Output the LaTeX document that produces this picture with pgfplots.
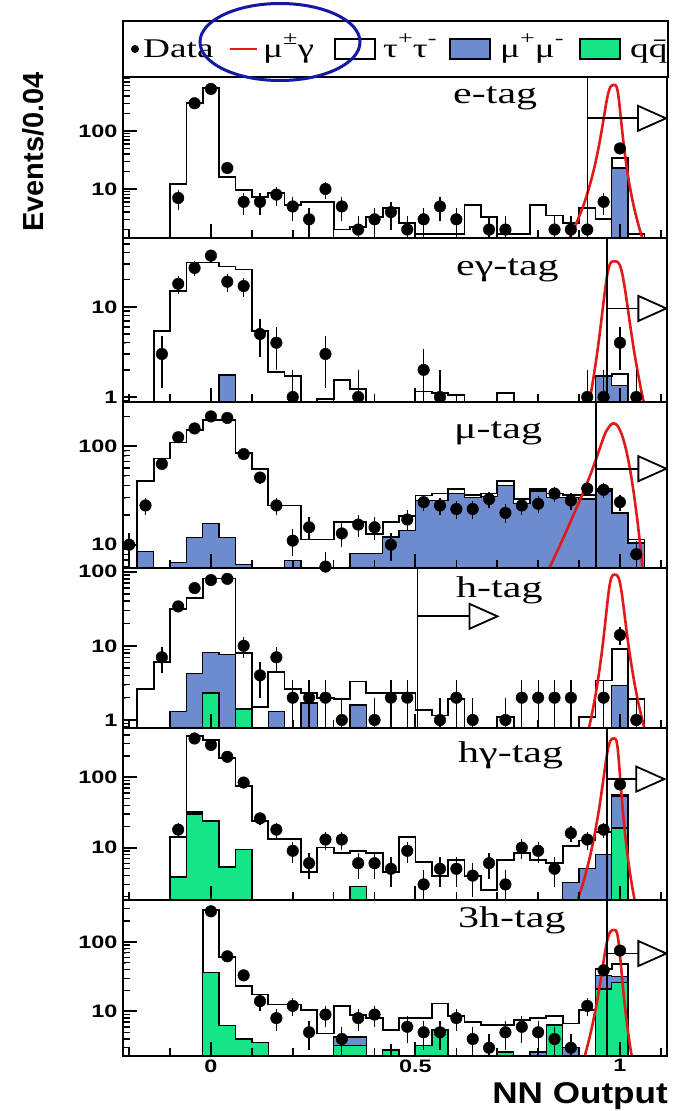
\documentclass[border=0pt]{standalone}
\usepackage{fontspec}
\usepackage{pgfplots}
\usepackage{pgfplotstable}
\pgfplotsset{compat=1.18}
\newfontfamily\sansstretch{Liberation Sans}[FakeStretch=1.3]
\newfontfamily\sansplain{Liberation Sans}
\newfontfamily\sanslabel{Liberation Sans}[FakeStretch=1.17]
\newfontfamily\serifleg{Liberation Serif}[FakeStretch=1.38]
\newfontfamily\serifpanel{Liberation Serif}[FakeStretch=1.4]
\newcommand\ticklab{\fontsize{18}{20}\selectfont\sansstretch\bfseries}
\newcommand\legfont{\fontsize{27}{27}\selectfont\serifleg}
\newcommand\panfont{\fontsize{30}{30}\selectfont\serifpanel}
\newcommand\sups[1]{\raisebox{0.45em}{\fontsize{19}{19}\selectfont #1}}
\definecolor{mublue}{RGB}{110,140,205}
\definecolor{qqgreen}{RGB}{20,230,135}
\definecolor{sigred}{RGB}{225,25,25}
\definecolor{ellblue}{RGB}{20,25,165}

\pgfplotstableread{
x t b g
-0.10 12 0.01 0.01
-0.06 300 0.01 0.01
-0.02 550 0.01 0.01
0.02 16 0.01 0.01
0.06 9.5 0.01 0.01
0.10 7.3 0.01 0.01
0.14 8.5 0.01 0.01
0.18 5.3 0.01 0.01
0.22 6 0.01 0.01
0.26 6 0.01 0.01
0.30 2.0 0.01 0.01
0.34 2.2 0.01 0.01
0.38 3.3 0.01 0.01
0.42 4.7 0.01 0.01
0.46 2.6 0.01 0.01
0.50 1.7 0.01 0.01
0.54 1.7 0.01 0.01
0.58 1.7 0.01 0.01
0.62 5.3 0.01 0.01
0.66 3.3 0.01 0.01
0.70 1.7 0.01 0.01
0.74 1.7 0.01 0.01
0.78 5.3 0.01 0.01
0.82 3.5 0.01 0.01
0.86 2.6 0.01 0.01
0.90 4.7 0.01 0.01
0.94 3.0 0.01 0.01
0.98 34 23 0.01
1.02 1.7 0.01 0.01
1.06 1.7 0.01 0.01
}\hA
\pgfplotstableread{
x y e
-0.08 7 2.65
-0.04 300 17.3
0.00 530 23
0.04 23 4.8
0.08 6 2.45
0.12 6 2.45
0.16 8 2.83
0.20 5 2.24
0.24 3 1.73
0.28 10 3.16
0.32 5 2.24
0.36 2 1.41
0.40 3 1.73
0.44 4 2
0.48 2 1.41
0.52 3 1.73
0.56 5 2.24
0.60 3 1.73
0.68 2 1.41
0.72 2 1.41
0.84 2 1.41
0.88 2 1.41
0.92 2 1.41
0.96 6 2.45
1.00 50 7.07
}\dA

\pgfplotstableread{
x t b g
-0.14 5.4 0.01 0.01
-0.10 15 0.01 0.01
-0.06 31 0.01 0.01
-0.02 31 0.01 0.01
0.02 28 1.75 0.01
0.06 26 0.01 0.01
0.10 5.4 0.01 0.01
0.14 1.9 0.01 0.01
0.18 1.7 0.01 0.01
0.22 0.01 0.01 0.01
0.26 0.95 0.01 0.01
0.30 1.55 0.01 0.01
0.34 1.23 0.01 0.01
0.38 0.01 0.01 0.01
0.42 0.01 0.01 0.01
0.46 0.01 0.01 0.01
0.50 1.15 0.01 0.01
0.54 1.1 0.01 0.01
0.58 1.05 0.01 0.01
0.62 0.01 0.01 0.01
0.66 0.01 0.01 0.01
0.70 1.1 0.01 0.01
0.74 0.01 0.01 0.01
0.78 0.01 0.01 0.01
0.82 0.01 0.01 0.01
0.86 0.01 0.01 0.01
0.90 0.01 0.01 0.01
0.94 1.7 1.7 0.01
0.98 1.8 1.35 0.01
1.02 0.01 0.01 0.01
1.06 0.01 0.01 0.01
}\hB
\pgfplotstableread{
x y e
-0.12 3 1.73
-0.08 18 4.24
-0.04 27 5.2
0.00 37 6.08
0.04 19 4.36
0.08 17 4.12
0.12 5 2.24
0.16 4 2
0.20 1 0.99
0.28 3 1.73
0.36 1 0.99
0.52 2 1.41
0.56 1 0.99
0.92 1 0.99
0.96 1 0.99
1.00 4 2
1.04 1 0.99
}\dB

\pgfplotstableread{
x t b g
-0.18 44 8.5 0.01
-0.14 75 0.01 0.01
-0.10 109 6.6 0.01
-0.06 145 11.8 0.01
-0.02 185 16.4 0.01
0.02 185 11.8 0.01
0.06 85 6.3 0.01
0.10 59 0.01 0.01
0.14 25 0.01 0.01
0.18 25 6.9 0.01
0.22 11.3 0.01 0.01
0.26 11.3 0.01 0.01
0.30 17 0.01 0.01
0.34 17 8.1 0.01
0.38 12.8 8.1 0.01
0.42 17 12 0.01
0.46 19.4 14 0.01
0.50 31.6 28 0.01
0.54 33 28 0.01
0.58 37 33 0.01
0.62 32 30 0.01
0.66 33 31 0.01
0.70 44 40 0.01
0.74 29 26 0.01
0.78 37 35 0.01
0.82 33 30 0.01
0.86 32 30 0.01
0.90 32 29 0.01
0.94 37 35 0.01
0.98 21 21 0.01
1.02 11.3 10.4 0.01
1.06 0.01 0.01 0.01
1.10 0.01 0.01 0.01
}\hC
\pgfplotstableread{
x y e
-0.20 10 3.16
-0.16 25 5
-0.12 66 8.1
-0.08 123 11.1
-0.04 151 12.3
0.00 200 14.1
0.04 193 13.9
0.08 83 9.1
0.12 48 6.9
0.16 25 5
0.20 11 3.32
0.24 15 3.87
0.28 6 2.45
0.32 13 3.61
0.36 16 4
0.40 15 3.87
0.44 10 3.16
0.48 18 4.24
0.52 27 5.2
0.56 25 5
0.60 23 4.8
0.64 23 4.8
0.68 29 5.39
0.72 21 4.58
0.76 25 5
0.80 26 5.1
0.84 33 5.74
0.88 28 5.29
0.92 37 6.08
0.96 36 6
1.00 27 5.2
1.04 8 2.83
}\dC

\pgfplotstableread{
x t b g
-0.18 2.6 0.01 0.01
-0.14 6 0.01 0.01
-0.10 31 1.3 0.01
-0.06 44 4.2 0.01
-0.02 81 8.1 2.3
0.02 81 7.7 0.01
0.06 8.1 1.4 1.4
0.10 1.5 0.01 0.01
0.14 4.4 1.3 0.01
0.18 2.6 0.01 0.01
0.22 2.3 1.7 0.01
0.26 2.0 0.01 0.01
0.30 1.9 0.01 0.01
0.34 3.3 1.6 0.01
0.38 2.3 0.01 0.01
0.42 2.3 0.01 0.01
0.46 2.3 0.01 0.01
0.50 1.35 0.01 0.01
0.54 1.15 0.01 0.01
0.58 1.9 0.01 0.01
0.62 0.01 0.01 0.01
0.66 0.01 0.01 0.01
0.70 1.1 0.01 0.01
0.74 0.01 0.01 0.01
0.78 0.01 0.01 0.01
0.82 0.01 0.01 0.01
0.86 0.01 0.01 0.01
0.90 1.1 0.01 0.01
0.94 3.4 0.01 0.01
0.98 9 2.9 0.01
1.02 1.9 0.01 0.01
1.06 0.01 0.01 0.01
}\hD
\pgfplotstableread{
x y e
-0.12 7 2.65
-0.08 34 5.83
-0.04 60 7.75
0.00 77 8.77
0.04 80 8.94
0.08 10 3.16
0.12 4 2
0.16 7 2.65
0.20 2 1.41
0.24 2 1.41
0.28 2 1.41
0.32 1 0.99
0.40 1 0.99
0.44 2 1.41
0.48 2 1.41
0.56 1 0.99
0.60 2 1.41
0.64 1 0.99
0.72 1 0.99
0.76 2 1.41
0.80 2 1.41
0.84 2 1.41
0.88 2 1.41
0.96 2 1.41
1.00 14 3.74
1.04 1 0.99
}\dD

\pgfplotstableread{
x t b g
-0.10 14 3.8 3.8
-0.06 390 32 30
-0.02 335 24 24
0.02 188 5.3 5.3
0.06 75 9.4 9.4
0.10 24 0.01 0.01
0.14 13.3 0.01 0.01
0.18 13.3 0.01 0.01
0.22 4.5 0.01 0.01
0.26 10 0.01 0.01
0.30 8.4 0.01 0.01
0.34 8.9 2.8 2.8
0.38 8.4 0.01 0.01
0.42 4.5 0.01 0.01
0.46 14 0.01 0.01
0.50 6.3 0.01 0.01
0.54 4 0.01 0.01
0.58 6.7 0.01 0.01
0.62 4 0.01 0.01
0.66 2.5 0.01 0.01
0.70 6.7 0.01 0.01
0.74 8.4 0.01 0.01
0.78 6.7 0.01 0.01
0.82 6 0.01 0.01
0.86 10.6 3.2 0.01
0.90 12.6 5 0.01
0.94 16.8 8 0.01
0.98 56 53 19
1.02 0.01 0.01 0.01
1.06 0.01 0.01 0.01
}\hE
\pgfplotstableread{
x y e
-0.08 18 4.24
-0.04 355 18.8
0.00 288 17
0.04 195 14
0.08 84 9.17
0.12 26 5.1
0.16 18 4.24
0.20 9 3
0.24 6 2.45
0.28 13 3.61
0.32 13 3.61
0.36 6 2.45
0.40 6 2.45
0.44 5 2.24
0.48 9 3
0.52 3 1.73
0.56 5 2.24
0.60 5 2.24
0.64 4 2
0.68 6 2.45
0.72 3 1.73
0.76 10 3.16
0.80 9 3
0.84 5 2.24
0.88 16 4
0.92 13 3.61
0.96 18 4.24
1.00 79 8.89
}\dE

\pgfplotstableread{
x t b g
-0.02 290 36 36
0.02 60 6.3 6.3
0.06 23 4 4
0.10 17.5 3.6 3.6
0.14 12.6 0.01 0.01
0.18 12.6 0.01 0.01
0.22 10.5 0.01 0.01
0.26 4.8 0.01 0.01
0.30 11.8 4.3 3.2
0.34 8.9 4.3 3.2
0.38 8 0.01 0.01
0.42 5.4 2.8 2.8
0.46 8 0.01 0.01
0.50 8 3.2 3.2
0.54 13 5.4 5.4
0.58 8.5 0.01 0.01
0.62 7.1 0.01 0.01
0.66 6.3 0.01 0.01
0.70 6.3 2.6 2.6
0.74 7.6 0.01 0.01
0.78 8 2.6 0.01
0.82 8.5 6.5 6.3
0.86 6.7 3.0 0.01
0.90 10.5 0.01 0.01
0.94 41 33 21
0.98 48 32 26
1.02 0.01 0.01 0.01
1.06 0.01 0.01 0.01
}\hF
\pgfplotstableread{
x y e
0.00 275 16.6
0.04 62 7.87
0.08 33 5.74
0.12 14 3.74
0.16 8 2.83
0.20 12 3.46
0.24 5 2.24
0.28 9 3
0.32 4 2
0.36 8 2.83
0.40 9 3
0.44 2 1.41
0.48 6 2.45
0.52 5 2.24
0.56 5 2.24
0.60 8 2.83
0.64 4 2
0.68 3 1.73
0.72 5 2.24
0.76 6 2.45
0.80 5 2.24
0.84 4 2
0.88 3 1.73
0.92 12 3.46
0.96 39 6.24
1.00 75 8.66
}\dF

\pgfplotsset{
  tauh/.style={const plot mark left, draw=black, fill=white, line width=1.8pt},
  muh/.style={const plot mark left, draw=black, fill=mublue, line width=1.4pt},
  qqh/.style={const plot mark left, draw=black, fill=qqgreen, line width=1.4pt},
  sig/.style={smooth, sigred, line width=2.6pt},
  dat/.style={only marks, mark=*, mark size=5.8pt, black,
    error bars/y dir=both, error bars/y explicit, error bars/error mark=none,
    error bars/error bar style={line width=1.3pt, black}},
}
\pgfplotsset{every axis/.append style={
    scale only axis, width=544pt,
    xmin=-0.215, xmax=1.115,
    log origin y=infty,
    axis on top,
    axis line style={line width=2pt},
    tick align=inside,
    xtick pos=bottom, ytick pos=left,
    xtick={0,0.5,1},
    extra x ticks={-0.2,-0.1,0.1,0.2,0.3,0.4,0.6,0.7,0.8,0.9,1.1},
    extra x tick labels={},
    extra x tick style={major tick length=8pt, major tick style={line width=1.6pt, black}},
    extra y ticks={0.2,0.3,0.4,0.5,0.6,0.7,0.8,0.9,2,3,4,5,6,7,8,9,20,30,40,50,60,70,80,90,200,300,400,500,600,700,800,900},
    extra y tick labels={},
    extra y tick style={major tick length=7pt, major tick style={line width=1.4pt, black}},
    major tick length=14pt,
    major tick style={line width=2pt, black},
    yticklabel style={font=\ticklab, xshift=-2pt},
    xticklabel style={font=\ticklab},
}}
\newcommand\tri[2]{\draw[line width=1.8pt, fill=white] (axis cs:#1,#2) -- ++(0pt,12.5pt) -- ++(28pt,-12.5pt) -- ++(-28pt,-12.5pt) -- cycle;}

\begin{document}
\begin{tikzpicture}
\useasboundingbox (0pt,0pt) rectangle (681pt,-1111pt);

% legend
\draw[line width=2pt, fill=white] (123pt,-21pt) rectangle (668pt,-77pt);
\fill (135pt,-49pt) circle (4pt);
\node[anchor=base west, inner sep=0pt, font=\legfont] at (143pt,-57pt) {Data};
\draw[sigred, line width=2pt] (230pt,-49pt) -- (257pt,-49pt);
\node[anchor=base west, inner sep=0pt, font=\legfont] at (263pt,-57pt) {μ\sups{±}γ};
\draw[line width=1.6pt, fill=white] (335pt,-39pt) rectangle (375pt,-59pt);
\node[anchor=base west, inner sep=0pt, font=\legfont] at (383pt,-57pt) {τ\sups{+}τ\sups{-}};
\draw[line width=1.6pt, fill=mublue] (450pt,-39pt) rectangle (490pt,-59pt);
\node[anchor=base west, inner sep=0pt, font=\legfont] at (500pt,-57pt) {μ\sups{+}μ\sups{-}};
\draw[line width=1.6pt, fill=qqgreen] (580pt,-39pt) rectangle (620pt,-59pt);
\node[anchor=base west, inner sep=0pt, font=\legfont] at (630pt,-57pt) {q\={q}};

\node[rotate=90, font=\fontsize{29}{29}\selectfont\sansplain\bfseries] at (33pt,-152pt) {Events/0.04};

% ---- panel 1: e-tag
\begin{axis}[ymode=log, height=161pt, ymin=1.43, ymax=850,
  ytick={10,100}, yticklabels={10,100}, xticklabels={},
  at={(123pt,-77pt)}, anchor=north west]
\addplot[tauh] table[x=x,y=t]{\hA} \closedcycle;
\addplot[muh] table[x=x,y=b]{\hA} \closedcycle;
\addplot[sig] coordinates {(0.8509,0.68) (0.8702,1.17) (0.8895,2.21) (0.9088,4.8) (0.9185,7.63) (0.9281,12.96) (0.9378,24.1) (0.9474,50.3) (0.9522,76.6) (0.9571,120.8) (0.9619,194.7) (0.9667,310) (0.9715,454.1) (0.9764,569.7) (0.9812,615.2) (0.986,620) (0.9890,615.2) (0.9921,569.7) (0.9951,454.1) (0.9981,310) (1.0011,194.7) (1.0042,120.8) (1.0072,76.6) (1.0102,50.3) (1.0163,24.1) (1.0223,12.96) (1.0284,7.63) (1.0344,4.8) (1.0465,2.21) (1.0586,1.17) (1.0707,0.68)};
\draw[line width=1.5pt] (axis cs:0.921,1.43) -- (axis cs:0.921,850);
\draw[line width=1.8pt] (axis cs:0.921,165) -- (axis cs:1.044,165);
\tri{1.044}{165}
\addplot[dat] table[x=x,y=y,y error=e]{\dA};
\end{axis}
\node[anchor=base west, inner sep=0pt, font=\panfont] at (453pt,-103pt) {e-tag};

% ---- panel 2: e gamma-tag
\begin{axis}[ymode=log, height=164pt, ymin=0.88, ymax=58,
  ytick={1,10}, yticklabels={1,10}, xticklabels={},
  at={(123pt,-238pt)}, anchor=north west]
\addplot[tauh] table[x=x,y=t]{\hB} \closedcycle;
\addplot[muh] table[x=x,y=b]{\hB} \closedcycle;
\addplot[sig] coordinates {(0.909,0.394) (0.920,0.669) (0.931,1.245) (0.942,2.60) (0.9475,3.96) (0.953,6.23) (0.9585,10.05) (0.964,16) (0.9695,23.44) (0.975,29.4) (0.9805,31.75) (0.986,32) (0.9925,31.75) (0.999,29.4) (1.0055,23.44) (1.012,16) (1.0185,10.05) (1.025,6.23) (1.0315,3.96) (1.038,2.60) (1.051,1.245) (1.064,0.669) (1.077,0.394)};
\draw[line width=1.5pt] (axis cs:0.968,0.88) -- (axis cs:0.968,58);
\draw[line width=1.8pt] (axis cs:0.968,9.6) -- (axis cs:1.045,9.6);
\tri{1.045}{9.6}
\addplot[dat] table[x=x,y=y,y error=e]{\dB};
\end{axis}
\node[anchor=base west, inner sep=0pt, font=\panfont] at (456pt,-275pt) {eγ-tag};

% ---- panel 3: mu-tag
\begin{axis}[ymode=log, height=166pt, ymin=5.8, ymax=280,
  ytick={10,100}, yticklabels={10,100}, xticklabels={},
  at={(123pt,-402pt)}, anchor=north west]
\addplot[tauh] table[x=x,y=t]{\hC} \closedcycle;
\addplot[muh] table[x=x,y=b]{\hC} \closedcycle;
\addplot[sig] coordinates {(0.795,3.0) (0.82,5.0) (0.845,8.3) (0.865,12.6) (0.885,19.5) (0.905,30.2) (0.925,47.9) (0.94,70.8) (0.955,107) (0.965,138) (0.975,160) (0.98,168) (0.985,170) (0.99,167) (0.995,159) (1.005,129) (1.015,91.8) (1.025,56.8) (1.035,30.6) (1.045,14.5) (1.055,5.9) (1.065,2.1)};
\draw[line width=1.5pt] (axis cs:0.941,5.8) -- (axis cs:0.941,280);
\draw[line width=1.8pt] (axis cs:0.941,59) -- (axis cs:1.045,59);
\tri{1.045}{59}
\addplot[dat] table[x=x,y=y,y error=e]{\dC};
\end{axis}
\node[anchor=base west, inner sep=0pt, font=\panfont] at (454pt,-438pt) {μ-tag};

% ---- panel 4: h-tag
\begin{axis}[ymode=log, height=160pt, ymin=0.78, ymax=112,
  ytick={1,10,100}, yticklabels={1,10,100}, xticklabels={},
  at={(123pt,-568pt)}, anchor=north west]
\addplot[tauh] table[x=x,y=t]{\hD} \closedcycle;
\addplot[muh] table[x=x,y=b]{\hD} \closedcycle;
\addplot[qqh] table[x=x,y=g]{\hD} \closedcycle;
\addplot[sig] coordinates {(0.906,0.324) (0.9222,0.705) (0.9303,1.12) (0.9384,1.90) (0.9465,3.54) (0.9546,7.39) (0.9587,11.25) (0.9627,17.7) (0.9668,28.6) (0.9708,45.5) (0.9749,66.6) (0.979,83.6) (0.983,90.3) (0.987,91) (0.9917,90.3) (0.9964,83.6) (1.001,66.6) (1.0057,45.5) (1.0104,28.6) (1.0151,17.7) (1.0197,11.25) (1.0244,7.39) (1.0338,3.54) (1.0431,1.90) (1.0525,1.12) (1.0618,0.705) (1.0805,0.324)};
\draw[line width=1.5pt] (axis cs:0.505,0.78) -- (axis cs:0.505,112);
\draw[line width=1.8pt] (axis cs:0.505,25) -- (axis cs:0.632,25);
\tri{0.632}{25}
\addplot[dat] table[x=x,y=y,y error=e]{\dD};
\end{axis}
\node[anchor=base west, inner sep=0pt, font=\panfont] at (456pt,-597pt) {h-tag};

% ---- panel 5: h gamma-tag
\begin{axis}[ymode=log, height=172pt, ymin=1.8, ymax=500,
  ytick={10,100}, yticklabels={10,100}, xticklabels={},
  at={(123pt,-728pt)}, anchor=north west]
\addplot[tauh] table[x=x,y=t]{\hE} \closedcycle;
\addplot[muh] table[x=x,y=b]{\hE} \closedcycle;
\addplot[qqh] table[x=x,y=g]{\hE} \closedcycle;
\addplot[sig] coordinates {(0.887,1.27) (0.9068,2.75) (0.9167,4.37) (0.9266,7.42) (0.9365,13.8) (0.9464,28.8) (0.9514,43.9) (0.9563,69.2) (0.9613,111.5) (0.9662,177.5) (0.9712,260) (0.9761,326.2) (0.981,352.3) (0.986,355) (0.9888,352.3) (0.9915,326.2) (0.9943,260) (0.997,177.5) (0.9998,111.5) (1.0025,69.2) (1.0053,43.9) (1.008,28.8) (1.0135,13.8) (1.019,7.42) (1.0245,4.37) (1.03,2.75) (1.041,1.27)};
\draw[line width=1.5pt] (axis cs:0.968,1.8) -- (axis cs:0.968,500);
\draw[line width=1.8pt] (axis cs:0.968,94) -- (axis cs:1.04,94);
\tri{1.04}{94}
\addplot[dat] table[x=x,y=y,y error=e]{\dE};
\end{axis}
\node[anchor=base west, inner sep=0pt, font=\panfont] at (458pt,-762pt) {hγ-tag};

% ---- panel 6: 3h-tag
\begin{axis}[ymode=log, height=156pt, ymin=2.28, ymax=400,
  ytick={10,100}, yticklabels={10,100}, xticklabels={0,0.5,1},
  at={(123pt,-900pt)}, anchor=north west]
\addplot[tauh] table[x=x,y=t]{\hF} \closedcycle;
\addplot[muh] table[x=x,y=b]{\hF} \closedcycle;
\addplot[qqh] table[x=x,y=g]{\hF} \closedcycle;
\addplot[sig] coordinates {(0.898,1.15) (0.909,1.82) (0.920,3.09) (0.931,5.76) (0.942,12.0) (0.9475,18.3) (0.953,28.8) (0.9585,46.5) (0.964,74) (0.9695,108.4) (0.975,136) (0.9805,146.9) (0.986,148) (0.9893,146.9) (0.9925,136) (0.9958,108.4) (0.999,74) (1.0023,46.5) (1.0055,28.8) (1.0088,18.3) (1.012,12.0) (1.0185,5.76) (1.025,3.09) (1.0315,1.82) (1.038,1.15)};
\draw[line width=1.5pt] (axis cs:0.968,2.28) -- (axis cs:0.968,400);
\draw[line width=1.8pt] (axis cs:0.968,68) -- (axis cs:1.045,68);
\tri{1.045}{68}
\addplot[dat] table[x=x,y=y,y error=e]{\dF};
\end{axis}
\node[anchor=base west, inner sep=0pt, font=\panfont] at (458pt,-927pt) {3h-tag};

\node[anchor=base east, inner sep=0pt, font=\fontsize{30}{30}\selectfont\sanslabel\bfseries] at (668pt,-1103pt) {NN Output};

\draw[ellblue, line width=3pt] (280pt,-42pt) ellipse [x radius=80pt, y radius=38.5pt];
\end{tikzpicture}
\end{document}
